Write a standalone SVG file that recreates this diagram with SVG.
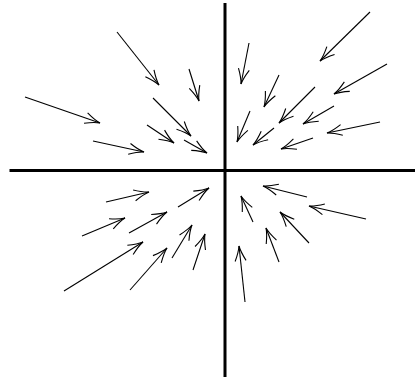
<svg xmlns="http://www.w3.org/2000/svg" width="417" height="381" viewBox="0 0 417 381">
<style>
.ax{stroke:#000;stroke-width:3;fill:none}
.ar{stroke:#000;stroke-width:1.1;fill:none;marker-end:url(#tip)}
</style>
<defs>
<marker id="tip" markerUnits="userSpaceOnUse" orient="auto" markerWidth="18" markerHeight="14" viewBox="-16 -7 18 14" refX="0" refY="0" overflow="visible">
<path d="M-15,-5.5 Q-6,-1 0,0 Q-6,1 -15,5.5" stroke="#000" stroke-width="1.1" fill="none"/>
</marker>
</defs>
<rect width="417" height="381" fill="#fff"/>
<g id="axes">
<line class="ax" x1="9.5" y1="170.5" x2="415" y2="170.5"/>
<line class="ax" x1="225" y1="3" x2="225" y2="377"/>
</g>
<g id="connectors">
<line class="ar" x1="117" y1="32" x2="159" y2="85"/>
<line class="ar" x1="189" y1="69" x2="199" y2="101"/>
<line class="ar" x1="25" y1="97" x2="100" y2="123"/>
<line class="ar" x1="153" y1="98" x2="191" y2="136"/>
<line class="ar" x1="147" y1="125" x2="174" y2="143"/>
<line class="ar" x1="184" y1="140" x2="207" y2="153"/>
<line class="ar" x1="93" y1="141" x2="144" y2="152"/>

<line class="ar" x1="370" y1="12" x2="320" y2="61"/>
<line class="ar" x1="249" y1="43" x2="241" y2="84"/>
<line class="ar" x1="387" y1="64" x2="334" y2="94"/>
<line class="ar" x1="279" y1="75" x2="264" y2="107"/>
<line class="ar" x1="315" y1="87" x2="279" y2="123"/>
<line class="ar" x1="250" y1="111" x2="237" y2="142"/>
<line class="ar" x1="334" y1="106" x2="303" y2="124"/>
<line class="ar" x1="274" y1="128" x2="253" y2="145"/>
<line class="ar" x1="380" y1="122" x2="327" y2="133"/>
<line class="ar" x1="313" y1="138" x2="281" y2="149"/>

<line class="ar" x1="106" y1="202" x2="149" y2="192"/>
<line class="ar" x1="178" y1="207" x2="209" y2="188"/>
<line class="ar" x1="82" y1="236" x2="125" y2="218"/>
<line class="ar" x1="129" y1="233" x2="167" y2="212"/>
<line class="ar" x1="64" y1="291" x2="143" y2="242"/>
<line class="ar" x1="130" y1="290" x2="167" y2="248"/>
<line class="ar" x1="172" y1="258" x2="192" y2="225"/>
<line class="ar" x1="193" y1="270" x2="205" y2="234"/>

<line class="ar" x1="307" y1="197" x2="263" y2="186"/>
<line class="ar" x1="253" y1="222" x2="241" y2="196"/>
<line class="ar" x1="366" y1="219" x2="309" y2="206"/>
<line class="ar" x1="309" y1="243" x2="280" y2="212"/>
<line class="ar" x1="279" y1="262" x2="266" y2="228"/>
<line class="ar" x1="245" y1="302" x2="239" y2="246"/>
</g>
</svg>
